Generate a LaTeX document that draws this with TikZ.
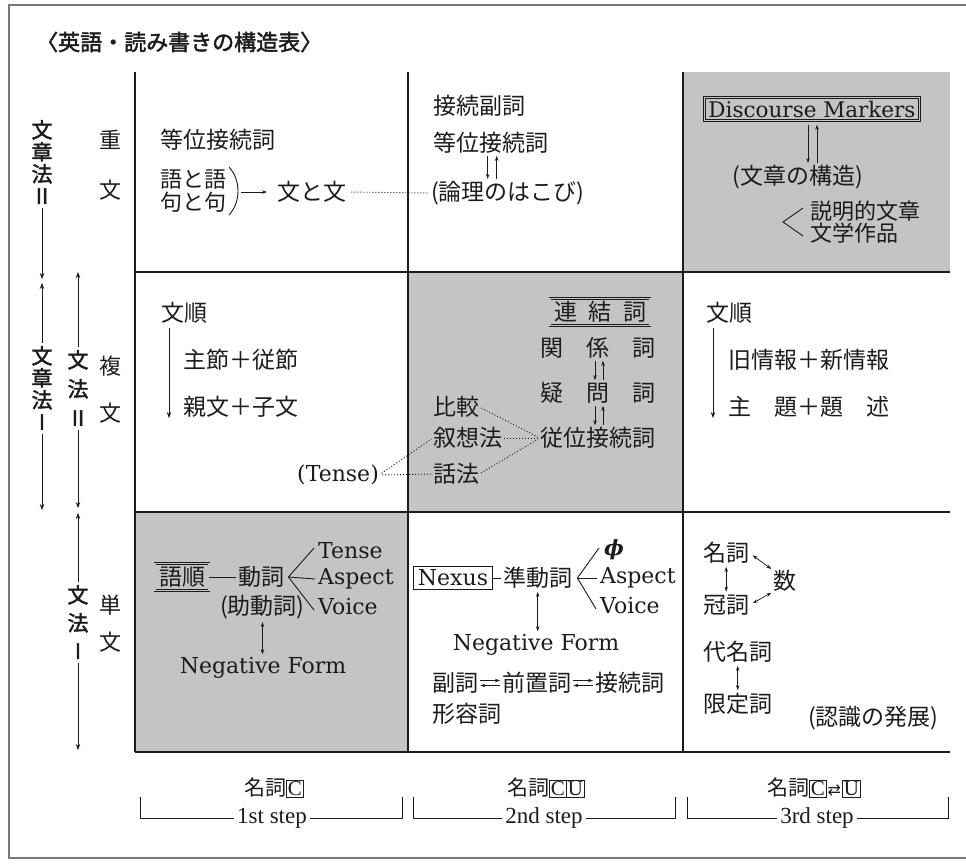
\documentclass[tikz,border=0pt]{standalone}
\usepackage{fontspec}
\usetikzlibrary{arrows.meta,calc}
\newfontfamily\jp{Noto Sans CJK JP}
\newfontfamily\jpb[FakeBold=2]{Noto Sans CJK JP}
\newfontfamily\dv{DejaVu Sans}
\newfontfamily\dvs{DejaVu Serif}
\newfontfamily\lsr{Liberation Serif}
\definecolor{cellgray}{RGB}{196,196,196}
\definecolor{ink}{RGB}{28,28,28}
\definecolor{framegray}{RGB}{120,120,120}
\newcommand\boxch[1]{{\setlength{\fboxsep}{1.2pt}\setlength{\fboxrule}{0.6pt}\fbox{\lsr #1}}}
\begin{document}
\begin{tikzpicture}[x=1pt,y=-1pt,color=ink,
  every node/.style={inner sep=0pt,text=ink},
  jtext/.style={font=\jp\fontsize{23}{23}\selectfont},
  jw/.style={jtext,anchor=west},
  ltext/.style={font=\dvs\fontsize{22}{26}\selectfont},
  lw/.style={ltext,anchor=west},
  sidelab/.style={font=\jpb\fontsize{21}{22}\selectfont,align=center},
  rowlab/.style={font=\jp\fontsize{22}{24}\selectfont},
  btext/.style={font=\lsr\fontsize{23}{26}\selectfont},
  bj/.style={font=\jp\fontsize{21}{24}\selectfont},
  tline/.style={line width=1.3pt,draw=ink},
  lnk/.style={line width=0.9pt},
  arr/.style={-{Stealth[length=6pt,width=4.5pt]},line width=0.8pt},
  sarr/.style={-{Stealth[length=5pt,width=3.5pt]},line width=0.7pt},
  darr/.style={{Stealth[length=5pt,width=3.5pt]}-{Stealth[length=5pt,width=3.5pt]},line width=0.7pt},
  dotline/.style={dash pattern=on 1pt off 2pt,line width=0.9pt},
  dbox/.style={draw,line width=0.8pt,double=cellgray,double distance=1.3pt,inner xsep=4pt,inner ysep=3pt},
  sbox/.style={draw,line width=0.9pt,inner xsep=4pt,inner ysep=3pt},
]
\useasboundingbox (0,0) rectangle (966,863);
\fill[white] (0,0) rectangle (966,863);
% frame
\draw[framegray,line width=1.1pt] (966,5) -- (9,5) -- (9,858) -- (966,858);
% title
\node[font=\jpb\fontsize{22}{24}\selectfont,anchor=west] (title) at (36,42) {〈英語・読み書きの構造表〉};
% gray cells
\fill[cellgray] (683,72) rectangle (950,272);
\fill[cellgray] (408,272) rectangle (683,512);
\fill[cellgray] (135,512) rectangle (408,752);
% grid
\draw[tline] (135,72) -- (135,752);
\draw[tline] (408,72) -- (408,752);
\draw[tline] (683,72) -- (683,752);
\draw[tline] (135,272) -- (950,272);
\draw[tline] (135,512) -- (950,512);
\draw[tline] (135,752) -- (950,752);

% left side labels
\node[sidelab] (sh2) at (42,162) {文\\章\\法\\II};
\coordinate (j1a) at (42,279);
\coordinate (j1b) at (42,283);
\draw[arr,shorten <=4pt] (sh2.south) -- (j1a);
\node[sidelab] (sh1) at (42,388) {文\\章\\法\\I};
\draw[arr,shorten <=3pt] (sh1.north) -- (j1b);
\coordinate (sh1end) at (42,510);
\draw[arr,shorten <=4pt] (sh1.south) -- (sh1end);

\node[sidelab,font=\jpb\fontsize{21}{29}\selectfont] (g2) at (78,388) {文\\法\\II};
\coordinate (g2top) at (78,272);
\draw[arr,shorten <=3pt] (g2.north) -- (g2top);
\coordinate (j2a) at (78,508);
\coordinate (j2b) at (78,513);
\draw[arr,shorten <=4pt] (g2.south) -- (j2a);
\node[sidelab,font=\jpb\fontsize{21}{28}\selectfont] (g1) at (78,622) {文\\法\\I};
\draw[arr,shorten <=3pt] (g1.north) -- (j2b);
\coordinate (g1end) at (78,750);
\draw[arr,shorten <=4pt] (g1.south) -- (g1end);

% row labels
\node[rowlab] (r1a) at (110,140) {重};
\node[rowlab] (r1b) at (110,190) {文};
\node[rowlab] (r2a) at (110,366) {複};
\node[rowlab] (r2b) at (110,413) {文};
\node[rowlab] (r3a) at (110,605) {単};
\node[rowlab] (r3b) at (110,642) {文};

% ---- row 1, col 1
\node[jw] (a1) at (160,140) {等位接続詞};
\node[jtext,anchor=west,align=left,font=\jp\fontsize{22}{23}\selectfont] (a2) at (160,191) {語と語\\句と句};
\draw[lnk] (229,167) .. controls (241,180) and (241,202) .. (229,215);
\coordinate (pr) at (241,192);
\node[jw] (a3) at (277,192) {文と文};
\draw[sarr,shorten >=10pt] (pr) -- (a3.west);

% ---- row 1, col 2
\node[jw] (b1) at (433,106) {接続副詞};
\node[jw] (b2) at (433,143) {等位接続詞};
\node[jw] (b3) at (431,193) {(論理のはこび)};
\draw[dotline,shorten <=5pt,shorten >=2pt] (a3.east) -- (b3.west);
\draw[sarr] ([xshift=-3pt,yshift=-2pt]b2.south) -- ([xshift=-3pt,yshift=2pt]b2.south |- b3.north);
\draw[sarr] ([xshift=6pt,yshift=2pt]b2.south |- b3.north) -- ([xshift=6pt,yshift=-2pt]b2.south);

% ---- row 1, col 3
\node[dbox,font=\dvs\fontsize{21.5}{24}\selectfont] (c1) at (812,109) {Discourse Markers};
\node[jtext] (c2) at (798,177) {(文章の構造)};
\draw[sarr] ([xshift=-4pt,yshift=-4pt]c1.south) -- ([xshift=-4pt,yshift=2pt]c1.south |- c2.north);
\draw[sarr] ([xshift=5pt,yshift=2pt]c1.south |- c2.north) -- ([xshift=5pt,yshift=-4pt]c1.south);
\node[jtext,anchor=west,align=left,font=\jp\fontsize{22}{22}\selectfont] (c3) at (810,222) {説明的文章\\文学作品};
\draw[lnk] ([xshift=-7pt,yshift=14pt]c3.west) -- ([xshift=-27pt]c3.west) -- ([xshift=-7pt,yshift=-14pt]c3.west);

% ---- row 2, col 1
\node[jw] (d1) at (161,313) {文順};
\coordinate (d1end) at (169,418);
\draw[arr] ([xshift=8pt,yshift=-4pt]d1.south west) -- (d1end);
\node[jw] (d2) at (183,360) {主節＋従節};
\node[jw] (d3) at (183,407) {親文＋子文};
\node[lw] (tense) at (297,475) {(Tense)};

% ---- row 2, col 2
\node[dbox,jtext] (e0) at (600,312) {\makebox[92pt][s]{連\hfill 結\hfill 詞}};
\node[jtext] (e1) at (598,348) {\makebox[116pt][s]{関\hfill 係\hfill 詞}};
\node[jtext] (e2) at (598,393) {\makebox[116pt][s]{疑\hfill 問\hfill 詞}};
\node[jtext] (e3) at (598,438) {\makebox[116pt][s]{従\hfill 位\hfill 接\hfill 続\hfill 詞}};
\draw[sarr] ([xshift=-3pt,yshift=-2pt]e1.south) -- ([xshift=-3pt,yshift=2pt]e1.south |- e2.north);
\draw[sarr] ([xshift=5pt,yshift=2pt]e1.south |- e2.north) -- ([xshift=5pt,yshift=-2pt]e1.south);
\draw[sarr] ([xshift=-3pt,yshift=-2pt]e2.south) -- ([xshift=-3pt,yshift=2pt]e2.south |- e3.north);
\draw[sarr] ([xshift=5pt,yshift=2pt]e2.south |- e3.north) -- ([xshift=5pt,yshift=-2pt]e2.south);
\node[jw] (f1) at (433,407) {比較};
\node[jw] (f2) at (433,438) {叙想法};
\node[jw] (f3) at (433,474) {話法};
\draw[dotline,shorten <=2pt,shorten >=2pt] (f1.east) -- (e3.west);
\draw[dotline,shorten <=2pt,shorten >=2pt] (f2.east) -- (e3.west);
\draw[dotline,shorten <=2pt,shorten >=2pt] (f3.east) -- (e3.west);
\draw[dotline,shorten <=3pt,shorten >=2pt] (tense.east) -- (f2.west);
\draw[dotline,shorten <=3pt,shorten >=2pt] (tense.east) -- (f3.west);

% ---- row 2, col 3
\node[jw] (h1) at (706,313) {文順};
\coordinate (h1end) at (713,418);
\draw[arr] ([xshift=7pt,yshift=-4pt]h1.south west) -- (h1end);
\node[jw] (h2) at (728,360) {旧情報＋新情報};
\node[jw] (h3) at (728,407) {主　題＋題　述};

% ---- row 3, col 1
\node[dbox,jtext] (k0) at (182,577) {語順};
\node[jw] (k1) at (238,577) {動詞};
\draw[lnk] (k0.east) -- ([xshift=-2pt]k1.west);
\node[lw] (k2) at (318,551) {Tense};
\node[lw] (k3) at (318,579) {Aspect};
\node[lw] (k4) at (318,607) {Voice};
\coordinate (kv) at ([xshift=4pt]k1.east);
\draw[lnk] (kv) -- ([xshift=-4pt,yshift=3pt]k2.west);
\draw[lnk] (kv) -- ([xshift=-3pt]k3.west);
\draw[lnk] (kv) -- ([xshift=-4pt,yshift=-3pt]k4.west);
\node[jw] (k5) at (220,607) {(助動詞)};
\node[ltext] (k6) at (263,668) {Negative Form};
\draw[darr,shorten <=3pt,shorten >=3pt] (k5.south) -- (k5.south |- k6.north);

% ---- row 3, col 2
\node[sbox,ltext] (m0) at (453,578) {Nexus};
\node[jw] (m1) at (503,578) {準動詞};
\draw[lnk] (m0.east) -- ([xshift=-2pt]m1.west);
\node[anchor=west,font=\dvs\bfseries\itshape\fontsize{21}{24}\selectfont] (m2) at (604,550) {ϕ};
\node[lw] (m3) at (600,578) {Aspect};
\node[lw] (m4) at (600,606) {Voice};
\coordinate (mv) at ([xshift=5pt]m1.east);
\draw[lnk] (mv) -- ([xshift=-5pt,yshift=2pt]m2.west);
\draw[lnk] (mv) -- ([xshift=-3pt]m3.west);
\draw[lnk] (mv) -- ([xshift=-4pt,yshift=-3pt]m4.west);
\node[ltext] (m5) at (536,645) {Negative Form};
\draw[darr,shorten <=3pt,shorten >=3pt] (m1.south) -- (m1.south |- m5.north);
\node[jw] (m6) at (432,683) {副詞};
\node[jw] (m7) at (502,683) {前置詞};
\node[jw] (m8) at (595,683) {接続詞};
\draw[sarr,shorten <=2pt,shorten >=2pt] ([yshift=2.5pt]m6.east) -- ([yshift=2.5pt]m7.west);
\draw[sarr,shorten <=2pt,shorten >=2pt] ([yshift=-2.5pt]m7.west) -- ([yshift=-2.5pt]m6.east);
\draw[sarr,shorten <=2pt,shorten >=2pt] ([yshift=2.5pt]m7.east) -- ([yshift=2.5pt]m8.west);
\draw[sarr,shorten <=2pt,shorten >=2pt] ([yshift=-2.5pt]m8.west) -- ([yshift=-2.5pt]m7.east);
\node[jw] (m9) at (432,714) {形容詞};

% ---- row 3, col 3
\node[jw] (n1) at (703,553) {名詞};
\node[jw] (n2) at (773,581) {数};
\node[jw] (n3) at (703,605) {冠詞};
\draw[darr,shorten <=3pt,shorten >=3pt] (n1.south) -- (n3.north);
\draw[darr,shorten <=4pt,shorten >=2pt] (n1.east) -- (n2.north west);
\draw[darr,shorten <=4pt,shorten >=2pt] (n3.east) -- (n2.south west);
\node[jw] (n4) at (703,652) {代名詞};
\node[jw] (n5) at (703,704) {限定詞};
\draw[darr,shorten <=3pt,shorten >=3pt] (n4.south) -- (n5.north);
\node[jw] (n6) at (808,718) {(認識の発展)};

% ---- bottom steps
\node[bj] (t1) at (274,788) {名詞\boxch{C}};
\node[bj] (t2) at (546,788) {名詞\boxch{C}\hspace{-0.6pt}\boxch{U}};
\node[bj] (t3) at (814,788) {名詞\boxch{C}\hspace{1pt}{\dv\fontsize{16}{18}\selectfont ⇄}\hspace{1pt}\boxch{U}};
\node[btext] (s1) at (272,818) {1st step};
\node[btext] (s2) at (544,818) {2nd step};
\node[btext] (s3) at (817,818) {3rd step};
\coordinate (b1l) at (140,797); \coordinate (b1r) at (402,797);
\coordinate (b2l) at (413,797); \coordinate (b2r) at (675,797);
\coordinate (b3l) at (687,797); \coordinate (b3r) at (948,797);
\draw[lnk,shorten >=3pt] (b1l) |- (s1.west);
\draw[lnk,shorten <=3pt] (s1.east) -| (b1r);
\draw[lnk,shorten >=3pt] (b2l) |- (s2.west);
\draw[lnk,shorten <=3pt] (s2.east) -| (b2r);
\draw[lnk,shorten >=3pt] (b3l) |- (s3.west);
\draw[lnk,shorten <=3pt] (s3.east) -| (b3r);
\end{tikzpicture}
\end{document}
